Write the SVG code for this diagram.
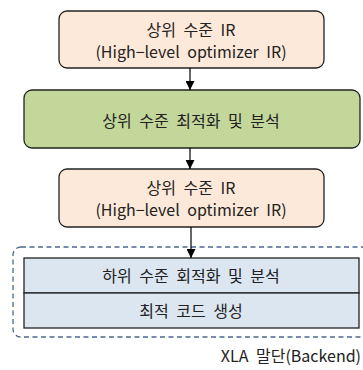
<svg xmlns="http://www.w3.org/2000/svg" width="363" height="370" viewBox="0 0 363 370">
  <defs>
    <marker id="arrow" viewBox="0 0 10 10" refX="10" refY="5" markerWidth="9" markerHeight="9" markerUnits="userSpaceOnUse" orient="auto">
      <path d="M0,0 L10,5 L0,10 z" fill="#000"/>
    </marker>
  </defs>
  <style>
    text { font-family: "Noto Sans CJK KR", "Noto Sans", sans-serif; font-size: 16px; word-spacing: 4px; fill: #222; text-anchor: middle; }
    .ir { fill: #fde9d9; stroke: #222; stroke-width: 1.3; }
    .hi { fill: #c4d79b; stroke: #222; stroke-width: 1.3; }
    .lo { fill: #dce6f1; stroke: #222; stroke-width: 1.3; }
    .group { fill: none; stroke: #4a6a90; stroke-width: 1.3; stroke-dasharray: 5 3.5; }
    .conn { stroke: #000; stroke-width: 1.2; fill: none; }
  </style>
  <rect width="363" height="370" fill="#fff"/>

  <g id="backend-group">
    <rect class="group" x="13" y="247" width="370" height="90" rx="8"/>
    <text x="361" y="362" style="text-anchor:end">XLA 말단(Backend)</text>
  </g>

  <g id="hlo-ir-1">
    <rect class="ir" x="59" y="11" width="265" height="57" rx="8"/>
    <text x="191" y="36">상위 수준 IR</text>
    <text x="191" y="58">(High−level optimizer IR)</text>
  </g>

  <g id="hlo-opt">
    <rect class="hi" x="24" y="90" width="336" height="58" rx="8"/>
    <text x="191" y="127">상위 수준 최적화 및 분석</text>
  </g>

  <g id="hlo-ir-2">
    <rect class="ir" x="59" y="169" width="265" height="58" rx="8"/>
    <text x="191" y="194">상위 수준 IR</text>
    <text x="191" y="216">(High−level optimizer IR)</text>
  </g>

  <g id="llo-opt">
    <rect class="lo" x="24" y="258" width="335" height="35"/>
    <text x="191" y="282">하위 수준 회적화 및 분석</text>
  </g>

  <g id="codegen">
    <rect class="lo" x="24" y="293" width="335" height="35"/>
    <text x="191" y="317">최적 코드 생성</text>
  </g>

  <g id="connectors">
    <line class="conn" x1="190" y1="68" x2="190" y2="90" marker-end="url(#arrow)"/>
    <line class="conn" x1="190" y1="148" x2="190" y2="169" marker-end="url(#arrow)"/>
    <line class="conn" x1="191" y1="227" x2="191" y2="258" marker-end="url(#arrow)"/>
  </g>
</svg>
